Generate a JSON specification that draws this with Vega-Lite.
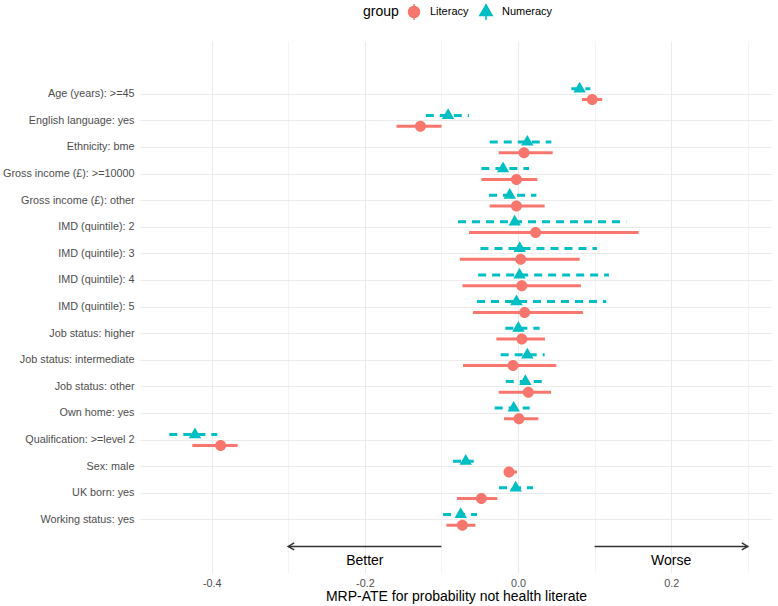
{
  "$schema": "https://vega.github.io/schema/vega-lite/v6.json",
  "width": 632,
  "height": 532,
  "autosize": {"type": "none"},
  "padding": {"left": 140, "top": 41, "right": 6, "bottom": 33},
  "background": "white",
  "config": {
    "view": {"stroke": null},
    "font": "Liberation Sans",
    "axis": {
      "domain": false,
      "ticks": false,
      "gridColor": "#ebebeb",
      "gridWidth": 1.1,
      "labelColor": "#4d4d4d",
      "labelFontSize": 10.8,
      "titleColor": "#000000",
      "titleFontSize": 14,
      "titleFontWeight": "normal"
    }
  },
  "datasets": {
    "est": [
      {"label": "Age (years): >=45", "group": "Literacy", "est": 0.097, "lo": 0.0835, "hi": 0.110},
      {"label": "English language: yes", "group": "Literacy", "est": -0.1274, "lo": -0.1587, "hi": -0.0999},
      {"label": "Ethnicity: bme", "group": "Literacy", "est": 0.0079, "lo": -0.0252, "hi": 0.0453},
      {"label": "Gross income (£): >=10000", "group": "Literacy", "est": -0.002, "lo": -0.0478, "hi": 0.0253},
      {"label": "Gross income (£): other", "group": "Literacy", "est": -0.002, "lo": -0.037, "hi": 0.0348},
      {"label": "IMD (quintile): 2", "group": "Literacy", "est": 0.023, "lo": -0.0639, "hi": 0.1575},
      {"label": "IMD (quintile): 3", "group": "Literacy", "est": 0.0035, "lo": -0.076, "hi": 0.0805},
      {"label": "IMD (quintile): 4", "group": "Literacy", "est": 0.005, "lo": -0.0725, "hi": 0.0822},
      {"label": "IMD (quintile): 5", "group": "Literacy", "est": 0.0087, "lo": -0.0587, "hi": 0.0848},
      {"label": "Job status: higher", "group": "Literacy", "est": 0.005, "lo": -0.0282, "hi": 0.0352},
      {"label": "Job status: intermediate", "group": "Literacy", "est": -0.0065, "lo": -0.0718, "hi": 0.0501},
      {"label": "Job status: other", "group": "Literacy", "est": 0.0135, "lo": -0.0252, "hi": 0.0431},
      {"label": "Own home: yes", "group": "Literacy", "est": 0.0013, "lo": -0.0183, "hi": 0.0266},
      {"label": "Qualification: >=level 2", "group": "Literacy", "est": -0.3883, "lo": -0.4253, "hi": -0.3661},
      {"label": "Sex: male", "group": "Literacy", "est": -0.0117, "lo": -0.0174, "hi": -0.0013},
      {"label": "UK born: yes", "group": "Literacy", "est": -0.0478, "lo": -0.0796, "hi": -0.0269},
      {"label": "Working status: yes", "group": "Literacy", "est": -0.0726, "lo": -0.0935, "hi": -0.0556},
      {"label": "Age (years): >=45", "group": "Numeracy", "est": 0.0805, "lo": 0.0697, "hi": 0.0945},
      {"label": "English language: yes", "group": "Numeracy", "est": -0.0913, "lo": -0.1204, "hi": -0.064},
      {"label": "Ethnicity: bme", "group": "Numeracy", "est": 0.0122, "lo": -0.0369, "hi": 0.0435},
      {"label": "Gross income (£): >=10000", "group": "Numeracy", "est": -0.0195, "lo": -0.0478, "hi": 0.0144},
      {"label": "Gross income (£): other", "group": "Numeracy", "est": -0.0108, "lo": -0.0378, "hi": 0.024},
      {"label": "IMD (quintile): 2", "group": "Numeracy", "est": -0.0043, "lo": -0.0783, "hi": 0.1414},
      {"label": "IMD (quintile): 3", "group": "Numeracy", "est": 0.0022, "lo": -0.049, "hi": 0.103},
      {"label": "IMD (quintile): 4", "group": "Numeracy", "est": 0.002, "lo": -0.052, "hi": 0.1187},
      {"label": "IMD (quintile): 5", "group": "Numeracy", "est": -0.002, "lo": -0.0535, "hi": 0.1153},
      {"label": "Job status: higher", "group": "Numeracy", "est": 0.0005, "lo": -0.0165, "hi": 0.0283},
      {"label": "Job status: intermediate", "group": "Numeracy", "est": 0.0122, "lo": -0.0226, "hi": 0.0348},
      {"label": "Job status: other", "group": "Numeracy", "est": 0.0096, "lo": -0.016, "hi": 0.0378},
      {"label": "Own home: yes", "group": "Numeracy", "est": -0.0056, "lo": -0.0304, "hi": 0.0153},
      {"label": "Qualification: >=level 2", "group": "Numeracy", "est": -0.4218, "lo": -0.4553, "hi": -0.3927},
      {"label": "Sex: male", "group": "Numeracy", "est": -0.0682, "lo": -0.0848, "hi": -0.0578},
      {"label": "UK born: yes", "group": "Numeracy", "est": -0.003, "lo": -0.0248, "hi": 0.0196},
      {"label": "Working status: yes", "group": "Numeracy", "est": -0.0748, "lo": -0.0978, "hi": -0.0535}
    ],
    "arrows": [
      {"label": "Better", "from": -0.1, "to": -0.3, "mid": -0.2},
      {"label": "Worse", "from": 0.1, "to": 0.3, "mid": 0.2}
    ]
  },
  "encoding": {
    "y": {
      "field": "label",
      "type": "nominal",
      "title": null,
      "scale": {
        "type": "band",
        "domain": ["Age (years): >=45", "English language: yes", "Ethnicity: bme", "Gross income (£): >=10000", "Gross income (£): other", "IMD (quintile): 2", "IMD (quintile): 3", "IMD (quintile): 4", "IMD (quintile): 5", "Job status: higher", "Job status: intermediate", "Job status: other", "Own home: yes", "Qualification: >=level 2", "Sex: male", "UK born: yes", "Working status: yes", " "],
        "paddingInner": 0,
        "paddingOuter": 1,
        "align": 0.75
      },
      "axis": {
        "grid": true,
        "bandPosition": 0.5,
        "labelPadding": 6,
        "gridColor": {"condition": {"test": "datum.value === ' '", "value": "transparent"}, "value": "#ebebeb"}
      }
    }
  },
  "layer": [
    {
      "data": {"name": "est"},
      "mark": {"type": "rule", "strokeWidth": 3, "strokeCap": "butt"},
      "encoding": {
        "x": {
          "field": "lo",
          "type": "quantitative",
          "title": "MRP-ATE for probability not health literate",
          "scale": {"domain": [-0.4936, 0.3317], "nice": false, "zero": false},
          "axis": {
            "values": [-0.4, -0.3, -0.2, -0.1, 0, 0.1, 0.2, 0.3],
            "format": ".1f",
            "labelExpr": "abs(round(datum.value*10)) % 2 == 0 ? replace(datum.label, '\u2212', '-') : ''",
            "gridWidth": {"condition": {"test": "abs(round(datum.value*10)) % 2 == 1", "value": 0.55}, "value": 1.1},
            "labelPadding": 4,
            "titlePadding": 2
          }
        },
        "x2": {"field": "hi"},
        "yOffset": {"field": "group", "type": "nominal", "scale": {"type": "point", "domain": ["Numeracy", "Literacy"], "range": [7.9, 18.7], "padding": 0}},
        "color": {"field": "group", "type": "nominal", "title": "group", "scale": {"domain": ["Literacy", "Numeracy"], "range": ["#F8766D", "#00BFC4"]}},
        "strokeDash": {"condition": {"test": "datum.group === 'Numeracy'", "value": [8, 6]}, "value": [1, 0]}
      }
    },
    {
      "data": {"name": "est"},
      "mark": {"type": "point", "filled": true, "opacity": 1, "size": 400},
      "encoding": {
        "x": {"field": "est", "type": "quantitative"},
        "yOffset": {"field": "group", "type": "nominal"},
        "color": {
          "field": "group",
          "type": "nominal",
          "title": "group",
          "legend": {
            "orient": "none",
            "legendX": 223,
            "legendY": -40,
            "direction": "horizontal",
            "titleOrient": "left",
            "titleFontSize": 14,
            "titleFontWeight": "normal",
            "titleColor": "#000000",
            "titlePadding": 4,
            "labelFontSize": 11,
            "labelColor": "#000000",
            "labelOffset": 5,
            "columnPadding": 6,
            "symbolSize": 400,
            "encode": {"symbols": {"update": {"stroke": {"scale": "color", "field": "value"}, "strokeWidth": {"value": 2}}}}
          }
        },
        "shape": {
          "field": "group",
          "type": "nominal",
          "title": "group",
          "scale": {
            "domain": ["Literacy", "Numeracy"],
            "range": ["M0,-0.8L0,0.8M-0.55,0A0.55,0.55 0 1,1 0.55,0A0.55,0.55 0 1,1 -0.55,0Z", "M0,-0.8L0,0.8M0,-0.71L0.62,0.36L-0.62,0.36Z"]
          }
        }
      }
    },
    {
      "mark": {"type": "rule", "color": "#333333", "strokeWidth": 1.2, "strokeDash": [5, 4]},
      "encoding": {"x": {"datum": 0, "type": "quantitative"}, "y": null}
    },
    {
      "data": {"name": "arrows"},
      "mark": {"type": "rule", "color": "#333333", "strokeWidth": 1.5},
      "encoding": {
        "x": {"field": "from", "type": "quantitative"},
        "x2": {"field": "to"},
        "y": {"datum": " ", "type": "nominal"}
      }
    },
    {
      "data": {"name": "arrows"},
      "mark": {"type": "point", "shape": "M-1.7,-1L0,0L-1.7,1", "filled": false, "stroke": "#333333", "strokeWidth": 1.5, "size": 49, "opacity": 1},
      "encoding": {
        "x": {"field": "to", "type": "quantitative"},
        "y": {"datum": " ", "type": "nominal"},
        "angle": {"condition": {"test": "datum.label === 'Better'", "value": 180}, "value": 0}
      }
    },
    {
      "data": {"name": "arrows"},
      "mark": {"type": "text", "fontSize": 14, "color": "#000000", "dy": 15, "baseline": "middle"},
      "encoding": {
        "x": {"field": "mid", "type": "quantitative"},
        "y": {"datum": " ", "type": "nominal"},
        "text": {"field": "label"}
      }
    }
  ]
}
